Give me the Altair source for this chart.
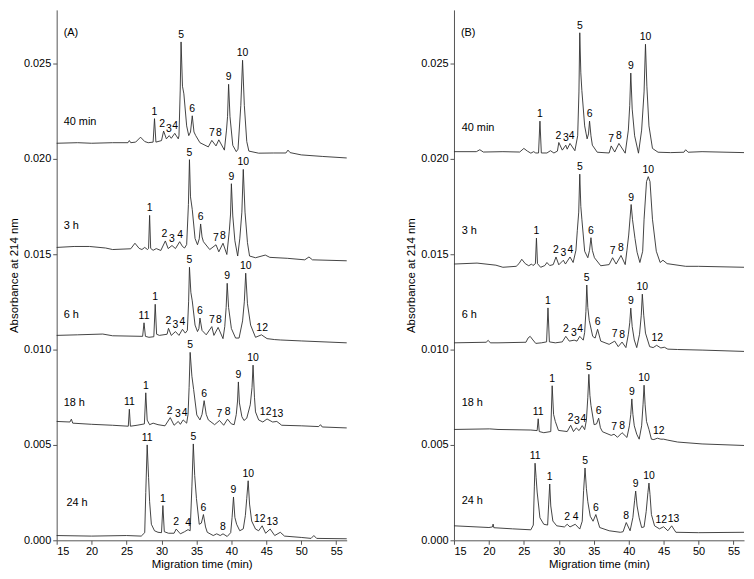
import altair as alt
import pandas as pd

# ---------------- Panel A traces: (migration time, absorbance) ----------------
A_40min = [(15.0,0.02081),(18.0,0.02084),(20.0,0.02081),(23.0,0.02084),(25.2,0.02084),(25.4,0.02095),(25.6,0.02084),
 (26.3,0.02087),(27.0,0.02113),(27.6,0.02090),(28.1,0.02084),(28.8,0.02087),(29.0,0.02210),(29.2,0.02087),(29.5,0.02090),
 (30.0,0.02095),(30.3,0.02145),(30.7,0.02104),(31.1,0.02121),(31.4,0.02107),(31.9,0.02133),(32.4,0.02104),(32.5,0.0212),
 (32.68,0.0236),(32.8,0.02612),(33.0,0.0238),(33.2,0.0234),(33.6,0.02172),(33.9,0.02121),(34.15,0.0214),(34.4,0.02225),
 (34.65,0.0214),(34.9,0.02121),(35.5,0.02084),(36.7,0.02062),(37.2,0.02096),(37.8,0.02067),(38.2,0.02099),(39.0,0.02045),
 (39.3,0.0215),(39.45,0.0222),(39.6,0.0239),(39.8,0.0222),(40.2,0.0207),(40.7,0.02037),(40.95,0.0205),(41.35,0.0228),
 (41.6,0.02516),(41.85,0.0228),(42.2,0.0209),(42.5,0.0204),(43.9,0.02029),(46.0,0.0203),(47.8,0.0203),(48.1,0.02045),
 (48.4,0.02032),(50.0,0.0202),(53.0,0.02012),(56.5,0.02004)]

A_3h = [(15.0,0.01535),(17.5,0.0154),(19.7,0.0154),(22.0,0.01532),(23.0,0.01524),(25.6,0.01528),(26.2,0.01557),(26.8,0.0153),
 (27.2,0.01524),(27.6,0.01535),(28.0,0.01524),(28.15,0.0153),(28.3,0.01703),(28.45,0.0153),(28.8,0.0152),(29.25,0.01529),
 (29.9,0.01519),(30.55,0.01569),(30.95,0.01529),(31.5,0.01545),(32.0,0.01529),(32.6,0.01565),(33.0,0.0154),(33.3,0.01532),
 (33.6,0.0155),(33.85,0.0176),(34.0,0.01995),(34.15,0.0180),(34.4,0.01734),(34.8,0.01582),(35.15,0.01549),(35.4,0.0158),
 (35.6,0.01658),(35.8,0.0159),(36.0,0.01565),(36.9,0.01524),(37.8,0.01549),(38.2,0.01512),(38.8,0.01557),(39.35,0.01498),
 (39.7,0.0162),(39.88,0.0171),(40.0,0.01869),(40.2,0.0170),(40.5,0.0157),(40.9,0.0149),(41.2,0.0158),(41.5,0.0172),
 (41.7,0.01944),(41.95,0.0172),(42.3,0.0156),(42.6,0.0149),(43.45,0.01481),(44.85,0.01495),(45.5,0.01483),(48.0,0.01478),
 (50.5,0.0147),(51.1,0.01485),(51.6,0.0147),(56.5,0.01465)]

A_6h = [(15.0,0.01074),(18.0,0.01077),(21.6,0.01081),(23.0,0.01072),(27.3,0.01069),(27.5,0.0114),(27.7,0.01069),(28.2,0.01064),
 (28.9,0.01067),(29.1,0.01237),(29.3,0.0108),(29.7,0.01074),(30.8,0.0108),(31.0,0.01111),(31.4,0.01074),(32.0,0.01094),
 (32.5,0.01074),(33.0,0.01106),(33.4,0.01086),(33.7,0.0110),(33.88,0.0125),(34.0,0.01431),(34.2,0.0130),(34.4,0.01255),
 (34.8,0.01128),(35.15,0.01094),(35.35,0.0111),(35.5,0.01165),(35.8,0.0110),(36.4,0.01077),(37.2,0.0112),(37.5,0.01074),
 (38.1,0.01116),(38.8,0.01057),(39.05,0.0112),(39.25,0.0122),(39.4,0.01347),(39.6,0.0122),(40.0,0.0111),(40.6,0.0106),
 (41.1,0.0106),(41.6,0.0115),(41.85,0.0125),(42.05,0.0140),(42.3,0.0124),(42.75,0.01128),(43.45,0.01064),(44.3,0.01077),
 (45.1,0.01057),(46.2,0.01052),(47.0,0.0105),(50.0,0.01045),(56.5,0.01035)]

A_18h = [(15.0,0.00623),(16.9,0.0062),(17.1,0.00635),(17.3,0.00614),(20.0,0.00608),(23.0,0.00603),(25.25,0.00598),(25.4,0.00687),
 (25.55,0.00598),(26.5,0.00603),(27.55,0.0061),(27.75,0.00773),(27.95,0.0063),(28.3,0.00606),(28.8,0.00614),(29.5,0.00606),
 (30.5,0.0060),(31.25,0.00643),(31.8,0.00603),(32.4,0.00623),(32.7,0.00608),(33.1,0.00631),(33.6,0.00614),(33.8,0.0066),
 (33.95,0.0080),(34.1,0.00985),(34.35,0.0086),(34.6,0.0079),(35.05,0.00657),(35.5,0.00631),(35.8,0.0066),(36.1,0.00732),
 (36.4,0.0066),(36.7,0.00631),(37.6,0.00606),(38.3,0.00628),(38.9,0.00603),(39.45,0.00635),(40.0,0.0061),(40.4,0.00606),
 (40.7,0.0066),(40.88,0.0073),(41.0,0.0083),(41.15,0.0072),(41.5,0.00648),(41.8,0.00628),(42.2,0.0064),(42.7,0.0071),
 (42.95,0.0080),(43.1,0.00918),(43.3,0.0075),(43.45,0.00673),(43.9,0.00631),(44.5,0.0062),(45.1,0.00636),(45.9,0.0062),
 (46.5,0.00623),(47.2,0.00603),(50.0,0.0060),(52.5,0.00596),(52.75,0.00606),(53.0,0.00594),(56.5,0.00589)]

A_24h = [(15.0,0.00025),(20.0,0.00022),(25.0,0.00025),(27.1,0.00022),(27.6,0.0004),(27.75,0.0025),(27.95,0.0050),(28.15,0.0033),
 (28.3,0.00202),(28.55,0.00084),(29.0,0.0005),(29.5,0.00042),(30.0,0.0004),(30.2,0.00182),(30.4,0.00045),(31.0,0.00037),
 (31.8,0.00037),(32.1,0.00059),(32.7,0.00034),(33.3,0.00045),(33.8,0.00056),(34.1,0.0005),(34.35,0.0028),(34.55,0.00505),
 (34.75,0.0034),(35.0,0.00219),(35.4,0.00084),(35.7,0.0009),(36.0,0.00135),(36.3,0.0007),(36.55,0.00042),(37.4,0.00025),
 (37.9,0.00034),(38.4,0.00025),(38.8,0.00034),(39.4,0.0002),(39.9,0.0004),(40.1,0.0012),(40.3,0.00227),(40.5,0.0012),
 (40.75,0.00084),(41.2,0.0005),(41.7,0.0006),(42.0,0.0013),(42.2,0.0022),(42.4,0.00312),(42.6,0.0019),(42.9,0.00101),
 (43.45,0.00059),(43.9,0.0005),(44.4,0.00076),(44.9,0.00037),(45.55,0.00059),(46.2,0.00025),(47.0,0.00042),(47.6,0.00022),
 (50.0,0.00015),(51.4,0.0001),(51.8,0.00025),(52.2,0.0001),(56.5,0.00008)]

# ---------------- Panel B traces ----------------
B_40min = [(15.0,0.02037),(18.2,0.02037),(18.7,0.02047),(19.2,0.02035),(22.0,0.02037),(24.4,0.02035),(25.0,0.02054),(25.5,0.0204),
 (26.0,0.02029),(26.4,0.02037),(26.7,0.0203),(27.1,0.0203),(27.3,0.02197),(27.5,0.0203),(28.3,0.0203),(28.8,0.02042),
 (29.3,0.0203),(29.8,0.0204),(30.0,0.02085),(30.5,0.02045),(31.0,0.02071),(31.2,0.0205),(31.6,0.0208),(32.3,0.02042),
 (32.7,0.0212),(32.88,0.0235),(33.0,0.0266),(33.15,0.0245),(33.3,0.02357),(33.7,0.02172),(34.05,0.02104),(34.25,0.0213),
 (34.4,0.02197),(34.6,0.0212),(34.8,0.02071),(35.5,0.02034),(37.2,0.0203),(37.5,0.02067),(38.0,0.02035),(38.6,0.0208),
 (39.5,0.02029),(39.95,0.0215),(40.15,0.0228),(40.3,0.02449),(40.5,0.0226),(40.85,0.0212),(41.4,0.02029),(41.85,0.0215),
 (42.2,0.0235),(42.4,0.0260),(42.6,0.0238),(42.9,0.02172),(43.4,0.02054),(44.2,0.02034),(46.0,0.02032),(47.9,0.02034),
 (48.15,0.02047),(48.5,0.02034),(50.5,0.02037),(56.5,0.02032)]

B_3h = [(15.0,0.01448),(18.3,0.01453),(21.0,0.01442),(22.0,0.01431),(23.9,0.01436),(24.3,0.0145),(24.7,0.01473),(25.2,0.0145),
 (25.7,0.01439),(26.1,0.01448),(26.3,0.0144),(26.65,0.0145),(26.8,0.01584),(26.95,0.0145),(27.4,0.01431),(28.0,0.0144),
 (28.3,0.01456),(28.7,0.0144),(29.2,0.01445),(29.6,0.01485),(30.0,0.01444),(30.65,0.01468),(30.95,0.01448),(31.6,0.01485),
 (32.05,0.01456),(32.45,0.0152),(32.65,0.01625),(32.85,0.0172),(33.0,0.01919),(33.15,0.0175),(33.3,0.01683),(33.7,0.01515),
 (34.15,0.01481),(34.4,0.0152),(34.6,0.01586),(34.8,0.0152),(35.1,0.01481),(36.0,0.01439),(37.2,0.01445),(37.7,0.01481),
 (38.2,0.01448),(38.9,0.01493),(39.5,0.01445),(39.75,0.0152),(40.0,0.0160),(40.35,0.0176),(40.55,0.0168),(40.9,0.01582),
 (41.2,0.0151),(41.6,0.01456),(42.0,0.01515),(42.2,0.01683),(42.55,0.0188),(42.8,0.01906),(43.05,0.0188),(43.4,0.01683),
 (43.95,0.01515),(44.5,0.01456),(44.9,0.01468),(45.5,0.0145),(48.15,0.01436),(50.0,0.01436),(56.5,0.01431)]

B_6h = [(15.0,0.01035),(19.6,0.01038),(19.9,0.01048),(20.2,0.01035),(21.3,0.01035),(25.3,0.01038),(25.6,0.0106),(25.9,0.01069),
 (26.3,0.0105),(26.7,0.01032),(27.5,0.01035),(28.25,0.0104),(28.45,0.01218),(28.65,0.0104),(29.5,0.01035),(30.5,0.0104),
 (31.0,0.01069),(31.5,0.01044),(32.2,0.01049),(32.6,0.01044),(33.0,0.01069),(33.5,0.01049),(33.7,0.0109),(33.88,0.0120),
 (34.0,0.01338),(34.15,0.0122),(34.35,0.01153),(34.85,0.01069),(35.2,0.0106),(35.55,0.01106),(36.0,0.01044),(37.2,0.01027),
 (38.0,0.01044),(38.5,0.01015),(39.05,0.01039),(39.6,0.0101),(39.95,0.0108),(40.15,0.0114),(40.3,0.01217),(40.5,0.0112),
 (40.8,0.0105),(41.15,0.0101),(41.55,0.0108),(41.8,0.0118),(41.95,0.0129),(42.15,0.0118),(42.4,0.01086),(43.0,0.01015),
 (43.5,0.0101),(44.0,0.01022),(44.6,0.01008),(45.1,0.01012),(45.6,0.01002),(47.0,0.0100),(50.5,0.00997),(56.5,0.0099)]

B_18h = [(15.0,0.00581),(20.1,0.00584),(21.3,0.00581),(26.0,0.00578),(26.9,0.00575),(27.05,0.00637),(27.2,0.0057),(27.85,0.00564),
 (28.85,0.0057),(29.05,0.0081),(29.25,0.0066),(29.5,0.00623),(29.95,0.00576),(31.2,0.0057),(31.7,0.00603),(32.1,0.0057),
 (32.5,0.00589),(32.9,0.00575),(33.35,0.00601),(33.7,0.0058),(33.95,0.0063),(34.15,0.0075),(34.3,0.0087),(34.45,0.0076),
 (34.6,0.00707),(35.05,0.00606),(35.4,0.0061),(35.7,0.0064),(35.95,0.0059),(36.25,0.00569),(37.5,0.0055),(37.9,0.00556),
 (38.4,0.0054),(39.05,0.00564),(39.75,0.00539),(40.1,0.0060),(40.3,0.0066),(40.45,0.00741),(40.6,0.0066),(40.8,0.0060),
 (41.15,0.00556),(41.5,0.0053),(41.85,0.0060),(42.05,0.0071),(42.2,0.00813),(42.35,0.0071),(42.55,0.00623),(42.9,0.00581),
 (43.25,0.0053),(43.6,0.00528),(44.1,0.00535),(44.6,0.0053),(45.0,0.0053),(45.6,0.00525),(47.0,0.00515),(50.5,0.00505),
 (56.5,0.00497)]

B_24h = [(15.0,0.00076),(20.0,0.00067),(20.5,0.0007),(20.6,0.00085),(20.7,0.00066),(23.4,0.0006),(26.0,0.00055),(26.35,0.0008),
 (26.5,0.0028),(26.6,0.00404),(26.75,0.0033),(26.9,0.00253),(27.3,0.00118),(27.85,0.00084),(28.4,0.0008),(28.55,0.0019),
 (28.7,0.00295),(28.85,0.0018),(29.15,0.00101),(29.7,0.00076),(30.8,0.0007),(31.2,0.00084),(31.6,0.0007),(32.35,0.00084),
 (33.0,0.00059),(33.35,0.0010),(33.55,0.0026),(33.75,0.00379),(33.95,0.0027),(34.15,0.00202),(34.5,0.00126),(34.9,0.0010),
 (35.3,0.00135),(35.85,0.00067),(37.2,0.0005),(38.8,0.00042),(39.2,0.00045),(39.65,0.00093),(40.2,0.0005),(40.6,0.0012),
 (40.85,0.0021),(41.0,0.00258),(41.2,0.0018),(41.5,0.00118),(41.85,0.00067),(42.2,0.0007),(42.5,0.0015),(42.75,0.0025),
 (42.9,0.0030),(43.05,0.0024),(43.25,0.00135),(43.7,0.00076),(44.4,0.0006),(45.0,0.00071),(45.6,0.0005),(46.15,0.00076),
 (46.75,0.00042),(50.0,0.0004),(56.5,0.00042)]

# ---------------- Peak labels: (peak number, migration time where the label sits) ----------------
A_40min_peaks = [("1",29.0),("2",30.1),("3",31.05),("4",31.95),("5",32.8),("6",34.4),("7",37.2),("8",38.2),("9",39.6),("10",41.6)]
A_3h_peaks = [("1",28.3),("2",30.4),("3",31.5),("4",32.65),("5",34.0),("6",35.6),("7",37.8),("8",38.8),("9",40.0),("10",41.7)]
A_6h_peaks = [("11",27.5),("1",29.1),("2",31.0),("3",32.0),("4",33.0),("5",34.0),("6",35.5),("7",37.2),("8",38.2),("9",39.4),("10",42.05),("12",44.4)]
A_18h_peaks = [("11",25.4),("1",27.75),("2",31.15),("3",32.35),("4",33.3),("5",34.1),("6",36.1),("7",38.3),("8",39.45),("9",41.0),("10",43.1),("12",44.9),("13",46.6)]
A_24h_peaks = [("11",27.95),("1",30.2),("2",32.1),("4",33.8),("5",34.55),("6",36.0),("8",38.8),("9",40.3),("10",42.4),("12",44.05),("13",45.85)]
B_40min_peaks = [("1",27.3),("2",29.95),("3",31.0),("4",31.85),("5",33.0),("6",34.4),("7",37.5),("8",38.6),("9",40.3),("10",42.4)]
B_3h_peaks = [("1",26.8),("2",29.6),("3",30.65),("4",31.65),("5",33.0),("6",34.6),("7",37.7),("8",38.9),("9",40.35),("10",42.8)]
B_6h_peaks = [("1",28.45),("2",31.0),("3",32.15),("4",33.05),("5",34.0),("6",35.55),("7",38.0),("8",39.05),("9",40.3),("10",41.95),("12",44.1)]
B_18h_peaks = [("11",27.05),("1",29.05),("2",31.7),("3",32.6),("4",33.5),("5",34.3),("6",35.7),("7",37.9),("8",39.05),("9",40.45),("10",42.2),("12",44.3)]
B_24h_peaks = [("11",26.6),("1",28.7),("2",31.2),("4",32.4),("5",33.75),("6",35.3),("8",39.65),("9",41.0),("10",42.9),("12",44.65),("13",46.4)]

sample_names = ["40 min", "3 h", "6 h", "18 h", "24 h"]
A_name_pos = [(16.0,0.0219),(16.0,0.01646),(16.0,0.01182),(16.0,0.00717),(16.4,0.00197)]
B_name_pos = [(16.1,0.02161),(16.1,0.01621),(16.1,0.01182),(16.1,0.00717),(16.1,0.00207)]

X_TICKS = [15, 20, 25, 30, 35, 40, 45, 50, 55]
Y_TICKS = [0.0, 0.005, 0.010, 0.015, 0.020, 0.025]
FONT = "Liberation Sans"

xenc = alt.X("t:Q", scale=alt.Scale(domain=[15, 56.5], nice=False, zero=False),
             axis=alt.Axis(values=X_TICKS, title="Migration time (min)", grid=False, tickSize=4,
                           labelPadding=1, titlePadding=2))
yenc = alt.Y("a:Q", scale=alt.Scale(domain=[0, 0.0278], nice=False),
             axis=alt.Axis(values=Y_TICKS, format=".3f", title="Absorbance at 214 nm", grid=False,
                           tickSize=4, labelPadding=2, titlePadding=4))


def panel(traces, peaks, name_pos, letter):
    rows, lab = [], []
    for name, tr, pk in zip(sample_names, traces, peaks):
        for t, a in tr:
            rows.append({"t": t, "a": a, "trace": name})
        for lbl, tp in pk:
            # the label sits just above the highest point of the trace near its time
            apex = max(a for t, a in tr if abs(t - tp) <= 0.4)
            lab.append({"t": tp, "a": apex, "lbl": lbl})
    df = pd.DataFrame(rows)
    dl = pd.DataFrame(lab)
    dn = pd.DataFrame({"t": [p[0] for p in name_pos], "a": [p[1] for p in name_pos], "name": sample_names})
    dletter = pd.DataFrame({"t": [16.0], "a": [0.0266], "name": [letter]})

    lines = alt.Chart(df).mark_line(color="#2e2e2e", strokeWidth=0.9).encode(
        x=xenc, y=yenc, detail="trace:N")
    labels = alt.Chart(dl).mark_text(font=FONT, fontSize=10.5, baseline="bottom", dy=-2, color="black").encode(
        x=xenc, y=yenc, text="lbl:N")
    names = alt.Chart(dn).mark_text(font=FONT, fontSize=11, align="left", baseline="middle", color="black").encode(
        x=xenc, y=yenc, text="name:N")
    lett = alt.Chart(dletter).mark_text(font=FONT, fontSize=11, align="left", baseline="middle", color="black").encode(
        x=xenc, y=yenc, text="name:N")
    return alt.layer(lines, labels, names, lett).properties(width=292, height=534)


pA = panel([A_40min, A_3h, A_6h, A_18h, A_24h],
           [A_40min_peaks, A_3h_peaks, A_6h_peaks, A_18h_peaks, A_24h_peaks], A_name_pos, "(A)")
pB = panel([B_40min, B_3h, B_6h, B_18h, B_24h],
           [B_40min_peaks, B_3h_peaks, B_6h_peaks, B_18h_peaks, B_24h_peaks], B_name_pos, "(B)")

chart = alt.hconcat(pA, pB, spacing=57).properties(
    padding={"left": 0, "top": 0, "right": 0, "bottom": 0}
).configure_view(stroke=None).configure_axis(
    labelFont=FONT, titleFont=FONT, labelFontSize=11, titleFontSize=11.5, titleFontWeight="normal",
    labelColor="black", titleColor="black", domainColor="#555", tickColor="#555"
)

chart.save("out.html", embed_options={"renderer": "svg", "actions": False})
